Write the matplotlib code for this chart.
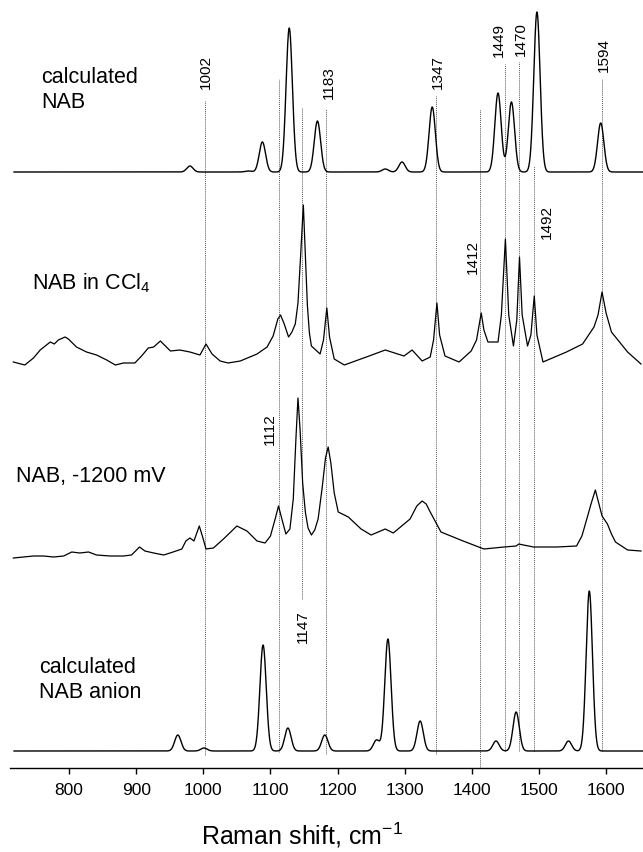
import numpy as np
import matplotlib.pyplot as plt

plt.rcParams['font.family'] = ['Liberation Sans', 'DejaVu Sans']
plt.rcParams['mathtext.fontset'] = 'custom'
plt.rcParams['mathtext.rm'] = 'Liberation Sans'
plt.rcParams['mathtext.it'] = 'Liberation Sans'

# calculated NAB: band positions (cm-1) and heights
calc_nab_pos = [980, 1067, 1088, 1128, 1170, 1271, 1296, 1341, 1439, 1459, 1497, 1592]
calc_nab_int = [6, 1, 30, 144, 51, 3, 10, 65, 79, 70, 160, 49]

# calculated NAB anion
anion_pos = [962, 1001, 1089, 1126, 1181, 1258, 1275, 1323, 1436, 1466, 1544, 1575]
anion_int = [16, 3, 106, 23, 16, 11, 112, 30, 10, 39, 10, 160]

# measured NAB in CCl4 (traced)
ccl4_shift = [717, 734, 747, 757, 772, 778, 784, 794, 799, 811, 826, 841, 856, 869, 881,
              898, 908, 918, 926, 936, 951, 965, 980, 995, 1004, 1013, 1025, 1037, 1055,
              1080, 1095, 1104, 1111, 1115, 1120, 1127, 1132, 1137, 1141, 1145, 1149,
              1152, 1155, 1158, 1161, 1174, 1179, 1184, 1188, 1195, 1210, 1247, 1271,
              1299, 1311, 1326, 1338, 1343, 1348, 1352, 1360, 1381, 1399, 1407, 1414,
              1418, 1424, 1439, 1444, 1450, 1455, 1462, 1467, 1471, 1475, 1483, 1488,
              1493, 1497, 1506, 1541, 1565, 1582, 1588, 1594, 1600, 1608, 1632, 1652]
ccl4_int = [3, 0, 7, 15, 23, 21, 25, 28, 26, 18, 13, 10, 5, 0, 2,
            2, 9, 17, 18, 24, 14, 15, 13, 10, 21, 11, 4, 2, 4,
            11, 18, 29, 46, 50, 42, 28, 33, 41, 62, 110, 160,
            110, 60, 32, 19, 11, 25, 57, 28, 6, 0, 9, 15,
            9, 15, 4, 8, 25, 62, 30, 9, 3, 14, 25, 52,
            35, 23, 23, 50, 126, 50, 19, 45, 108, 50, 19, 30,
            69, 30, 3, 13, 21, 38, 50, 73, 52, 33, 13, 1]

# measured NAB at -1200 mV (traced)
mv_shift = [717, 732, 747, 762, 777, 792, 804, 816, 829, 841, 861, 881, 893, 905, 913,
            926, 941, 955, 968, 974, 980, 986, 994, 999, 1004, 1015, 1030, 1050, 1065,
            1080, 1092, 1100, 1107, 1112, 1117, 1123, 1129, 1134, 1138, 1141, 1144,
            1148, 1152, 1156, 1161, 1166, 1171, 1177, 1182, 1186, 1190, 1195, 1201,
            1216, 1235, 1250, 1271, 1283, 1308, 1318, 1326, 1332, 1338, 1354, 1387,
            1418, 1448, 1466, 1470, 1477, 1492, 1527, 1556, 1564, 1570, 1578, 1584,
            1589, 1594, 1602, 1608, 1614, 1632, 1652]
mv_int = [0, 1, 2, 2, 1, 2, 6, 5, 6, 3, 2, 2, 3, 11, 7,
          5, 3, 6, 9, 17, 20, 17, 32, 21, 9, 10, 19, 32, 27,
          17, 15, 22, 39, 52, 39, 24, 29, 59, 120, 160, 130,
          75, 46, 30, 23, 28, 39, 70, 100, 111, 95, 65, 46,
          41, 29, 23, 29, 25, 39, 52, 57, 54, 46, 26, 17,
          9, 11, 12, 14, 13, 11, 11, 12, 22, 36, 55, 68,
          55, 42, 34, 24, 16, 8, 7]

# marker lines: position, line top, line bottom, label x, label y
mark_pos = [1002, 1112, 1147, 1183, 1347, 1412, 1449, 1470, 1492, 1594]
mark_top = [667, 689, 661, 659, 672, 659, 704, 706, 602, 689]
mark_bot = [13, 16, 169, 14, 14, 0, 17, 17, 17, 17]
mark_lx = [1004, 1099, 1149, 1187, 1350, 1401, 1441, 1473, 1512, 1597]
mark_ly = [697, 340, 142, 686, 697, 512, 729, 730, 547, 714]

offsets = [596, 403, 210, 17]

fig = plt.figure(figsize=(6.43, 8.53), dpi=100)
ax = fig.add_axes([10 / 643, 84 / 853, 633 / 643, 769 / 853])

# dotted guide lines
for p, t, b, lx, ly in zip(mark_pos, mark_top, mark_bot, mark_lx, mark_ly):
    ax.plot([p, p], [b, t], color="0.35", lw=0.7, ls=(0, (1, 1)), zorder=1)
    ax.text(lx, ly, str(p), rotation=90, ha="center", va="center", fontsize=11)

grid = np.linspace(718, 1655, 3000)
sig = 4.7


def broaden(pos, inten):
    y = np.zeros_like(grid)
    for p, h in zip(pos, inten):
        y += h * np.exp(-(grid - p) ** 2 / (2 * sig ** 2))
    return y


ax.plot(grid, broaden(calc_nab_pos, calc_nab_int) + offsets[0], color="black", lw=1.0, zorder=2)
ax.plot(ccl4_shift, np.array(ccl4_int) + offsets[1], color="black", lw=0.9, zorder=2)
ax.plot(mv_shift, np.array(mv_int) + offsets[2], color="black", lw=0.9, zorder=2)
ax.plot(grid, broaden(anion_pos, anion_int) + offsets[3], color="black", lw=1.0, zorder=2)

# panel names
ax.text(758, 679, "calculated\nNAB", fontsize=15.5, ha="left", va="center", linespacing=1.2)
ax.text(745, 486, "NAB in CCl$_4$", fontsize=15.5, ha="left", va="center")
ax.text(721, 292, "NAB, -1200 mV", fontsize=15.5, ha="left", va="center")
ax.text(755, 89, "calculated\nNAB anion", fontsize=15.5, ha="left", va="center", linespacing=1.2)

ax.set_xlim(712, 1655)
ax.set_ylim(0, 769)
ax.set_xticks([800, 900, 1000, 1100, 1200, 1300, 1400, 1500, 1600])
ax.set_yticks([])
for s in ["left", "right", "top"]:
    ax.spines[s].set_visible(False)
ax.spines["bottom"].set_linewidth(1.0)
ax.tick_params(axis="x", direction="out", length=4, width=1, labelsize=12.5, pad=6)

fig.text(302 / 643, 1 - 835 / 853, "Raman shift, cm$^{-1}$", fontsize=18, ha="center", va="center")

fig.savefig("out.png", dpi=100)
